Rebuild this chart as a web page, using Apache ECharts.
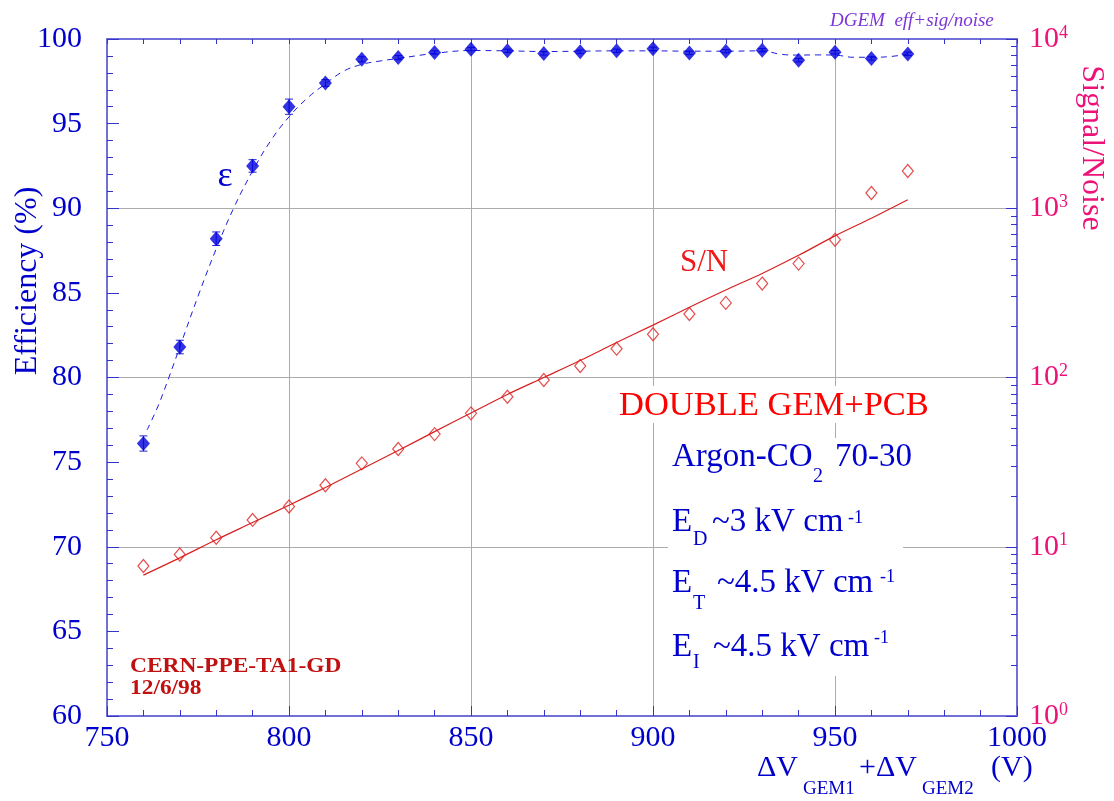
<!DOCTYPE html>
<html><head><meta charset="utf-8">
<script src="https://cdn.jsdelivr.net/npm/echarts@6/dist/echarts.min.js"></script>
<style>html,body{margin:0;padding:0;background:#fff}#c{width:1114px;height:801px}</style>
</head><body><div id="c"></div>
<script>
// ---- data ----
const effX = [760,770,780,790,800,810,820,830,840,850,860,870,880,890,900,910,920,930,940,950,960,970];
const effY = [76.1,81.8,88.2,92.5,96.0,97.4,98.8,98.9,99.2,99.4,99.3,99.15,99.25,99.3,99.42,99.18,99.28,99.34,98.75,99.22,98.85,99.12];
const effErr = [0.45,0.4,0.4,0.37,0.45,0.2,0.15,0.12,0.1,0.1,0.1,0.1,0.1,0.1,0.1,0.1,0.1,0.1,0.1,0.1,0.1,0.1];
const effFitX = [761,764,767,770,775,780,785,790,795,800,805,810,815,820,825,830,840,850,860,870,880,890,900,910,920,930,935,940,945,950,955,960,965,970];
const effFitY = [76.9,78.3,80.0,81.8,84.8,87.6,90.1,92.2,94.0,95.4,96.5,97.35,98.1,98.5,98.7,98.85,99.15,99.32,99.3,99.26,99.28,99.3,99.3,99.28,99.28,99.3,99.1,99.05,99.06,99.05,98.92,98.92,98.96,99.1];
const snX = [760,770,780,790,800,810,820,830,840,850,860,870,880,890,900,910,920,930,940,950,960,970];
const snY = [7.7,9.0,11.3,14.4,17.3,23.1,31.1,37.8,46.3,61.4,77,96.7,117,148,180,237,276,359,471,651,1230,1660];
const snFitX = [760,770,780,790,800,810,820,830,840,850,860,870,880,890,900,910,920,930,940,950,960,970];
const snFitY = [6.8,8.6,11.0,13.9,17.6,22.4,28.8,37,47.9,61.7,79.4,100,126,161,204,260,329,412,527,687,873,1122];
const decadeTicks = [1,10,100,1000,10000];
const minorLogTicks = [2,3,4,5,6,7,8,9,20,30,40,50,60,70,80,90,200,300,400,500,600,700,800,900,2000,3000,4000,5000,6000,7000,8000,9000];

// ---- style ----
const FONT = 'Liberation Serif';
const BLUE = '#0000cc';
const PINK = '#ec1278';
const RED = '#ff0000';
const AXC = '#7070d8';
const TICKC = '#3434cc';
const GRIDC = '#ababab';

const chart = echarts.init(document.getElementById('c'), null, {renderer: 'canvas'});

function txt(text, x, y, size, color, opts) {
  opts = opts || {};
  return {
    type: 'text', x: x, y: y, z: 10, rotation: opts.rotation || 0, scaleX: opts.scaleX || 1,
    style: {
      text: text, fill: color,
      font: (opts.italic ? 'italic ' : '') + (opts.bold ? 'bold ' : '') + size + 'px "' + FONT + '"',
      align: opts.align || 'left', verticalAlign: 'middle'
    }
  };
}

const axisLineStyle = {show: true, lineStyle: {color: AXC, width: 2}};

const option = {
  backgroundColor: '#fff',
  animation: false,
  grid: {left: 107, right: 97, top: 39, bottom: 85},
  xAxis: [
    {
      type: 'value', position: 'bottom', min: 750, max: 1000, interval: 50,
      axisLine: axisLineStyle,
      axisTick: {show: true, inside: true, length: 10, lineStyle: {color: TICKC}},
      minorTick: {show: true, splitNumber: 5, length: 6, lineStyle: {color: TICKC}},
      axisLabel: {fontSize: 30, fontFamily: FONT, color: BLUE, margin: 7, showMinLabel: true, showMaxLabel: true,
        formatter: function (v) { return String(v); }},
      splitLine: {show: true, lineStyle: {color: GRIDC, width: 1}}
    },
    {
      type: 'value', position: 'top', min: 750, max: 1000, interval: 10,
      axisLine: axisLineStyle,
      axisTick: {show: true, inside: true, length: 5, lineStyle: {color: TICKC}},
      axisLabel: {show: false}, splitLine: {show: false}
    }
  ],
  yAxis: [
    {
      type: 'value', position: 'left', min: 60, max: 100, interval: 5,
      axisLine: axisLineStyle,
      axisTick: {show: true, inside: true, length: 12, lineStyle: {color: TICKC}},
      minorTick: {show: true, splitNumber: 5, length: 6, lineStyle: {color: TICKC}},
      axisLabel: {fontSize: 30, fontFamily: FONT, color: BLUE, margin: 25, showMinLabel: true, showMaxLabel: true},
      splitLine: {show: false}
    },
    {
      type: 'log', logBase: 10, position: 'right', min: 1, max: 10000,
      axisLine: axisLineStyle,
      axisTick: {show: true, inside: true, length: 6, customValues: minorLogTicks, lineStyle: {color: TICKC}},
      axisLabel: {show: false}, splitLine: {show: false}
    },
    {
      type: 'log', logBase: 10, position: 'right', min: 1, max: 10000,
      axisLine: {show: false},
      axisTick: {show: true, inside: true, length: 11, customValues: decadeTicks, lineStyle: {color: TICKC}},
      axisLabel: {
        show: true, customValues: decadeTicks, margin: 12, showMinLabel: true, showMaxLabel: true,
        formatter: function (v) { return '{b|10}{s|' + Math.round(Math.log10(v)) + '}'; },
        rich: {
          b: {fontSize: 30, fontFamily: FONT, color: PINK},
          s: {fontSize: 18, fontFamily: FONT, color: PINK, verticalAlign: 'top'}
        }
      },
      splitLine: {show: false}
    },
    {
      type: 'value', position: 'left', min: 60, max: 100, interval: 10,
      axisLine: {show: false}, axisTick: {show: false}, axisLabel: {show: false},
      splitLine: {show: true, lineStyle: {color: GRIDC, width: 1}}
    }
  ],
  graphic: [
    {type: 'rect', z: 1, shape: {x: 612, y: 386, width: 330, height: 37}, style: {fill: '#fff'}},
    {type: 'rect', z: 1, shape: {x: 668, y: 438, width: 235, height: 238}, style: {fill: '#fff'}},
    txt('DGEM  eff+sig/noise', 830, 20.5, 19, '#7c36d6', {italic: true}),
    txt('Efficiency (%)', 27.5, 281, 32, BLUE, {align: 'center', rotation: Math.PI / 2}),
    txt('Signal/Noise', 1091, 148, 32, PINK, {align: 'center', rotation: -Math.PI / 2}),
    txt('ΔV', 757, 768, 30, BLUE),
    txt('GEM1', 803, 789, 19, BLUE),
    txt('+ΔV', 859, 768, 30, BLUE),
    txt('GEM2', 922, 789, 19, BLUE),
    txt('(V)', 991, 768, 30, BLUE),
    txt('ε', 225, 177, 36, BLUE, {align: 'center'}),
    txt('S/N', 680, 262.5, 31, '#f01818'),
    txt('DOUBLE GEM+PCB', 619, 406, 34.5, RED),
    txt('Argon-CO', 672, 457.5, 33, BLUE),
    txt('2', 813, 477, 20, BLUE),
    txt('70-30', 835, 457.5, 33, BLUE),
    txt('E', 672, 522, 33, BLUE),
    txt('D', 693, 539.5, 20, BLUE),
    txt('~3 kV cm', 712, 522, 33, BLUE),
    txt('-1', 848, 518, 18, BLUE),
    txt('E', 672, 583, 33, BLUE),
    txt('T', 693, 603.5, 20, BLUE),
    txt('~4.5 kV cm', 717, 583, 33, BLUE),
    txt('-1', 880, 577, 18, BLUE),
    txt('E', 672, 647, 33, BLUE),
    txt('I', 693, 663, 20, BLUE),
    txt('~4.5 kV cm', 713, 647, 33, BLUE),
    txt('-1', 874, 638, 18, BLUE),
    txt('CERN-PPE-TA1-GD', 130, 667, 20, '#c01010', {bold: true, scaleX: 1.17}),
    txt('12/6/98', 130, 689, 20, '#c01010', {bold: true, scaleX: 1.17})
  ],
  series: [
    {
      type: 'line', xAxisIndex: 0, yAxisIndex: 0, z: 3,
      data: effFitX.map((x, i) => [x, effFitY[i]]),
      smooth: 0.4, showSymbol: false, silent: true,
      lineStyle: {color: '#1c1cdc', width: 1, type: [6, 5]}
    },
    {
      type: 'custom', xAxisIndex: 0, yAxisIndex: 0, z: 4,
      data: effX.map((x, i) => [x, effY[i] - effErr[i], effY[i] + effErr[i]]),
      renderItem: function (params, api) {
        const p1 = api.coord([api.value(0), api.value(1)]);
        const p2 = api.coord([api.value(0), api.value(2)]);
        const st = {stroke: '#2020d0', lineWidth: 1};
        return {type: 'group', children: [
          {type: 'line', shape: {x1: p1[0], y1: p1[1], x2: p2[0], y2: p2[1]}, style: st},
          {type: 'line', shape: {x1: p1[0] - 4, y1: p1[1], x2: p1[0] + 4, y2: p1[1]}, style: st},
          {type: 'line', shape: {x1: p2[0] - 4, y1: p2[1], x2: p2[0] + 4, y2: p2[1]}, style: st}
        ]};
      }
    },
    {
      type: 'scatter', xAxisIndex: 0, yAxisIndex: 0, z: 5,
      data: effX.map((x, i) => [x, effY[i]]),
      symbol: 'diamond', symbolSize: [13, 15],
      itemStyle: {color: '#0000dd'}
    },
    {
      type: 'line', xAxisIndex: 0, yAxisIndex: 1, z: 3,
      data: snFitX.map((x, i) => [x, snFitY[i]]),
      smooth: 0.3, showSymbol: false, silent: true,
      lineStyle: {color: '#d82020', width: 1.2}
    },
    {
      type: 'scatter', xAxisIndex: 0, yAxisIndex: 1, z: 5,
      data: snX.map((x, i) => [x, snY[i]]),
      symbol: 'diamond', symbolSize: [11, 13],
      itemStyle: {color: 'rgba(255,255,255,0)', borderColor: '#e02020', borderWidth: 1.2}
    }
  ]
};
chart.setOption(option);
</script>
</body></html>
